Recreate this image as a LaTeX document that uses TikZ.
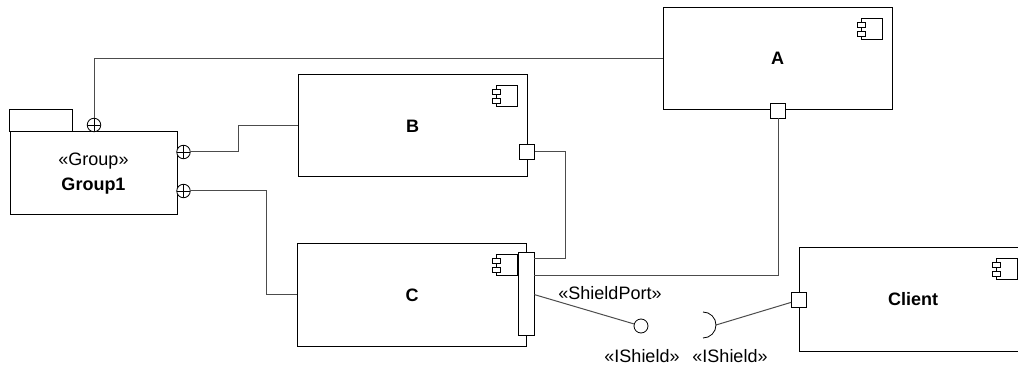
\documentclass[tikz,border=0pt]{standalone}
\usepackage{fontspec}
\setmainfont{Liberation Sans}
\newcommand{\compicon}[1]{%
  \draw[line width=0.8pt] ([xshift=-31pt,yshift=-11pt]#1.north east) rectangle ++(21,21);
  \draw[line width=0.8pt,fill=white] ([xshift=-35pt,yshift=-15pt]#1.north east) rectangle ++(8,5);
  \draw[line width=0.8pt,fill=white] ([xshift=-35pt,yshift=-24pt]#1.north east) rectangle ++(8,5);}
\begin{document}
\begin{tikzpicture}[x=1pt,y=-1pt,
    comp/.style={draw,line width=1pt,minimum width=229pt,minimum height=102pt,inner sep=0pt,font=\fontsize{18}{22}\selectfont\bfseries},
    pkg/.style={draw,line width=1pt,minimum width=167pt,minimum height=83pt,inner sep=0pt,align=center,font=\fontsize{18}{25}\selectfont},
    port/.style={draw,line width=0.8pt,fill=white,minimum size=15pt,inner sep=0pt},
    joint/.style={draw,circle,line width=0.8pt,fill=white,minimum size=13.5pt,inner sep=0pt,
      path picture={\draw[line width=0.8pt] (path picture bounding box.north) -- (path picture bounding box.south)
        (path picture bounding box.west) -- (path picture bounding box.east);}},
    wire/.style={draw=black!70,line width=1pt},
    lbl/.style={font=\fontsize{18}{22}\selectfont,inner sep=0pt}]
  \useasboundingbox (0,0) rectangle (1018,366);
  % components
  \node[comp] (A) at (777.5,58.5) {A};
  \node[comp] (B) at (412.5,126) {B};
  \node[comp] (C) at (412,295) {C};
  \node[comp,minimum width=228pt,minimum height=103pt] (Client) at (913,299.5) {Client};
  \compicon{A} \compicon{B} \compicon{C} \compicon{Client}
  % package
  \node[pkg] (group) at (93.5,173.5) {«Group»\\\textbf{Group1}};
  \draw[line width=1pt] (group.north west) rectangle ++(63,-22);
  % ports
  \node[port] (pA) at (778,110.5) {};
  \node[port] (pB) at (527,151.5) {};
  \node[port] (pCl) at (799,300) {};
  \node[port,minimum width=16pt,minimum height=83pt] (pC) at (526,293.5) {};
  \node[joint] (j1) at (94,125) {};
  \node[joint] (j2) at (183.5,152) {};
  \node[joint] (j3) at (183.5,191) {};
  \node[draw,circle,line width=0.8pt,minimum size=14pt,inner sep=0pt] (ball) at (641,326) {};
  \coordinate (sock) at (716,325);
  % connectors
  \draw[wire] (j1) |- (A.west);
  \draw[wire] (j2) -- ++(55,0) |- (B.west);
  \draw[wire] (j3) -- ++(83,0) |- (C.west);
  \draw[wire] (pB) -- ++(38,0) |- ([yshift=-7pt]pC.north east);
  \draw[wire] (pA) |- ([yshift=-24pt]pC.north east);
  \draw[wire] ([yshift=-43pt]pC.north east) -- (ball);
  \draw[wire] (sock) -- (pCl);
  \draw[line width=0.8pt] (sock) arc (0:-90:13) (sock) arc (0:90:13);
  % labels
  \node[lbl] (portlbl) at (610,293) {«ShieldPort»};
  \node[lbl] (ilbl1) at (642,356) {«IShield»};
  \node[lbl] (ilbl2) at (730,356) {«IShield»};
\end{tikzpicture}
\end{document}
